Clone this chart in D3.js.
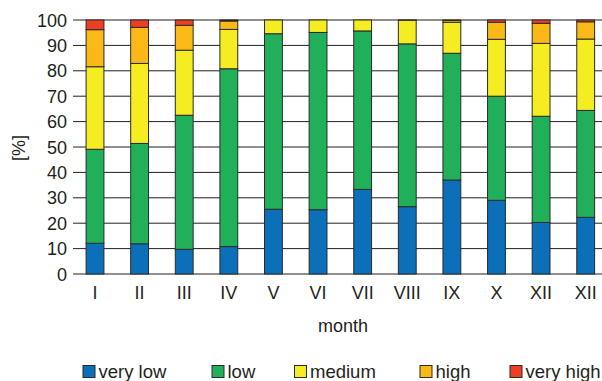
<!DOCTYPE html>
<html>
<head>
<meta charset="utf-8">
<script src="https://cdn.jsdelivr.net/npm/d3@7"></script>
<style>
  html, body { margin: 0; padding: 0; background: #fff; }
  svg { display: block; font-family: "Liberation Sans", Arial, sans-serif; }
</style>
</head>
<body>
<svg id="chart" width="602" height="381"></svg>
<script>
const months = ["I", "II", "III", "IV", "V", "VI", "VII", "VIII", "IX", "X", "XII", "XII"];
const seriesNames = ["very low", "low", "medium", "high", "very high"];
const seriesColors = ["#0b6fba", "#21b05a", "#f5ec22", "#fbb917", "#ee3f24"];
const veryLow  = [12.1, 11.9,  9.7, 10.8, 25.5, 25.3, 33.3, 26.5, 37.0, 29.0, 20.3, 22.3];
const low      = [37.0, 39.5, 52.8, 70.0, 69.1, 69.8, 62.4, 64.1, 49.9, 41.0, 41.8, 42.1];
const medium   = [32.5, 31.5, 25.6, 15.5,  5.4,  4.9,  4.3,  9.3, 12.2, 22.4, 28.7, 28.1];
const high     = [14.6, 14.2,  9.8,  3.3,  0.0,  0.0,  0.0,  0.1,  0.7,  6.7,  7.9,  6.8];
const veryHigh = [ 3.8,  2.9,  2.1,  0.4,  0.0,  0.0,  0.0,  0.0,  0.2,  0.9,  1.3,  0.7];
const yTicks = [0, 10, 20, 30, 40, 50, 60, 70, 80, 90, 100];

const seriesData = [veryLow, low, medium, high, veryHigh];
const rows = months.map((m, i) => {
  const r = { idx: i, month: m };
  seriesNames.forEach((s, k) => r[s] = seriesData[k][i]);
  return r;
});

const svg = d3.select("#chart");
const textColor = "#231f20";

const x = d3.scaleBand().domain(d3.range(months.length))
  .range([72.7, 608]).paddingInner(0.6).paddingOuter(0.3);
const y = d3.scaleLinear().domain([0, 100]).range([274, 20]);

// gridlines
svg.append("g").selectAll("line").data(yTicks).join("line")
  .attr("x1", 73).attr("x2", 602)
  .attr("y1", d => y(d)).attr("y2", d => y(d))
  .attr("stroke", textColor).attr("stroke-width", 1);

// y labels
svg.append("g").selectAll("text").data(yTicks).join("text")
  .attr("x", 67).attr("y", d => y(d) + 6.5)
  .attr("text-anchor", "end").attr("font-size", 18).attr("fill", textColor)
  .text(d => d);

// stacked bars
const stack = d3.stack().keys(seriesNames);
const layers = stack(rows);
const bars = svg.append("g");
layers.forEach((layer, k) => {
  bars.append("g").selectAll("rect").data(layer.filter(d => d[1] - d[0] > 0)).join("rect")
    .attr("x", d => x(d.data.idx))
    .attr("width", x.bandwidth())
    .attr("y", d => y(d[1]))
    .attr("height", d => y(d[0]) - y(d[1]))
    .attr("fill", seriesColors[k])
    .attr("stroke", "#2a2a2a").attr("stroke-width", 1);
});

// x labels
svg.append("g").selectAll("text").data(months).join("text")
  .attr("x", (d, i) => x(i) + x.bandwidth() / 2).attr("y", 298.5)
  .attr("text-anchor", "middle").attr("font-size", 18).attr("fill", textColor)
  .text(d => d);

// axis titles
svg.append("text").attr("x", 343).attr("y", 332)
  .attr("text-anchor", "middle").attr("font-size", 18).attr("fill", textColor)
  .text("month");
svg.append("text")
  .attr("transform", "translate(25,148) rotate(-90)")
  .attr("text-anchor", "middle").attr("font-size", 18).attr("fill", textColor)
  .text("[%]");

// legend
const legendX = [83, 212, 294.5, 420, 510];
const lg = svg.append("g").selectAll("g").data(seriesNames).join("g")
  .attr("transform", (d, i) => `translate(${legendX[i]},365.5)`);
lg.append("rect").attr("width", 12).attr("height", 12)
  .attr("fill", (d, i) => seriesColors[i]).attr("stroke", "#2a2a2a").attr("stroke-width", 1);
lg.append("text").attr("x", 15.5).attr("y", 12.3)
  .attr("font-size", 18.5).attr("fill", textColor).text(d => d);
</script>
</body>
</html>
